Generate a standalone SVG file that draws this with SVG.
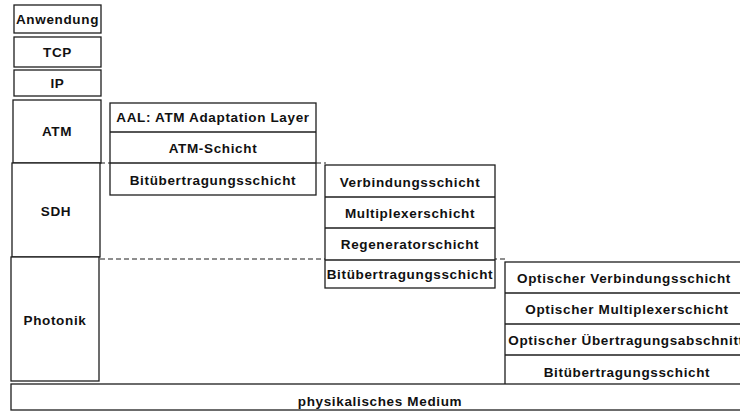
<svg xmlns="http://www.w3.org/2000/svg" width="740" height="417" viewBox="0 0 740 417">
  <style>
    .box { fill: #ffffff; stroke: #1e1e1e; stroke-width: 1.3; }
    .lbl { font-family: "Liberation Sans", Arial, Helvetica, sans-serif; font-weight: bold; font-size: 13.5px; letter-spacing: 0.65px; fill: #111111; text-anchor: middle; dominant-baseline: central; }
    .dash { stroke: #1e1e1e; stroke-width: 1.2; stroke-dasharray: 5 3; fill: none; }
  </style>
  <rect width="740" height="417" fill="#ffffff"/>

  <!-- layer boundaries -->
  <g id="connectors">
    <line class="dash" x1="100" y1="163" x2="326" y2="163"/>
    <line class="dash" x1="100" y1="259" x2="506" y2="259"/>
  </g>

  <!-- left column: protocol stack -->
  <g id="anwendung">
    <rect class="box" x="14" y="5" width="87" height="28"/>
    <text class="lbl" x="57.5" y="19">Anwendung</text>
  </g>
  <g id="tcp">
    <rect class="box" x="14" y="37" width="87" height="30"/>
    <text class="lbl" x="57.5" y="52">TCP</text>
  </g>
  <g id="ip">
    <rect class="box" x="14" y="70" width="87" height="26"/>
    <text class="lbl" x="57.5" y="83">IP</text>
  </g>
  <g id="atm">
    <rect class="box" x="13" y="100" width="88" height="63"/>
    <text class="lbl" x="57" y="131">ATM</text>
  </g>
  <g id="sdh">
    <rect class="box" x="12" y="163" width="88" height="94"/>
    <text class="lbl" x="56" y="211">SDH</text>
  </g>
  <g id="photonik">
    <rect class="box" x="11" y="257" width="88" height="124"/>
    <text class="lbl" x="55" y="320">Photonik</text>
  </g>

  <!-- ATM sublayers -->
  <g id="atm-stack">
    <rect class="box" x="110" y="103" width="206" height="92"/>
    <line class="box" x1="110" y1="132" x2="316" y2="132"/>
    <line class="box" x1="110" y1="163" x2="316" y2="163"/>
    <text class="lbl" x="213" y="117">AAL: ATM Adaptation Layer</text>
    <text class="lbl" x="213" y="148">ATM-Schicht</text>
    <text class="lbl" x="213" y="180">Bitübertragungsschicht</text>
  </g>

  <!-- SDH sublayers -->
  <g id="sdh-stack">
    <rect class="box" x="325" y="165" width="170" height="123"/>
    <line class="box" x1="325" y1="197" x2="495" y2="197"/>
    <line class="box" x1="325" y1="228" x2="495" y2="228"/>
    <line class="box" x1="325" y1="260" x2="495" y2="260"/>
    <text class="lbl" x="410" y="182">Verbindungsschicht</text>
    <text class="lbl" x="410" y="213">Multiplexerschicht</text>
    <text class="lbl" x="410" y="244">Regeneratorschicht</text>
    <text class="lbl" x="410" y="274">Bitübertragungsschicht</text>
  </g>

  <!-- photonic sublayers -->
  <g id="photonik-stack">
    <rect class="box" x="505" y="262" width="250" height="124"/>
    <line class="box" x1="505" y1="293" x2="755" y2="293"/>
    <line class="box" x1="505" y1="324" x2="755" y2="324"/>
    <line class="box" x1="505" y1="355" x2="755" y2="355"/>
    <text class="lbl" x="624" y="278">Optischer Verbindungsschicht</text>
    <text class="lbl" x="627" y="309">Optischer Multiplexerschicht</text>
    <text class="lbl" x="626" y="340">Optischer Übertragungsabschnitt</text>
    <text class="lbl" x="627" y="372">Bitübertragungsschicht</text>
  </g>

  <!-- physical medium -->
  <g id="medium">
    <rect class="box" x="11" y="384" width="745" height="26"/>
    <text class="lbl" x="380" y="401">physikalisches Medium</text>
  </g>
</svg>
